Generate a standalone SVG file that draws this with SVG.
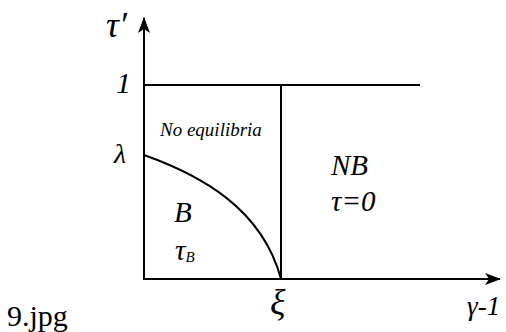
<svg xmlns="http://www.w3.org/2000/svg" width="506" height="332" viewBox="0 0 506 332">
<style>
.ln{stroke:#000;stroke-width:2;fill:none}
.t{font-family:'Liberation Serif','Times New Roman','DejaVu Serif',serif;font-style:italic;fill:#000}
.r{font-family:'Liberation Serif','Times New Roman','DejaVu Serif',serif;fill:#000}
</style>
<defs>
<marker id="ah" viewBox="0 0 16 12" refX="15" refY="6" markerWidth="16" markerHeight="12" markerUnits="userSpaceOnUse" orient="auto">
<path d="M0,0 L16,6 L0,12 L4,6 Z" fill="#000"/>
</marker>
</defs>
<rect width="506" height="332" fill="#fff"/>
<g id="connectors">
<line class="ln" x1="144" y1="280" x2="144" y2="18" marker-end="url(#ah)"/>
<line class="ln" x1="143" y1="279" x2="500" y2="279" marker-end="url(#ah)"/>
<line class="ln" x1="144" y1="85" x2="420" y2="85"/>
<line class="ln" x1="281" y1="85" x2="281" y2="279"/>
<path class="ln" d="M144,155 C200,175 262,208 281,279"/>
</g>
<g id="axis-labels">
<text class="t" x="106" y="37" font-size="36">τ′</text>
<text class="t" x="116" y="93" font-size="30">1</text>
<text class="t" x="114" y="163" font-size="28">λ</text>
<text class="t" x="270" y="314" font-size="36">ξ</text>
<text class="t" x="467" y="315" font-size="27">γ-1</text>
</g>
<g id="region-no-eq">
<text class="t" x="160" y="136" font-size="19">No equilibria</text>
</g>
<g id="region-nb">
<text class="t" x="331" y="175" font-size="29">NB</text>
<text class="t" x="331" y="211" font-size="29">τ=0</text>
</g>
<g id="region-b">
<text class="t" x="174" y="222" font-size="29">B</text>
<text class="t" x="175" y="260" font-size="29">τ<tspan font-size="15" dy="2">B</tspan></text>
</g>
<text class="r" x="7" y="326" font-size="30">9.jpg</text>
</svg>
